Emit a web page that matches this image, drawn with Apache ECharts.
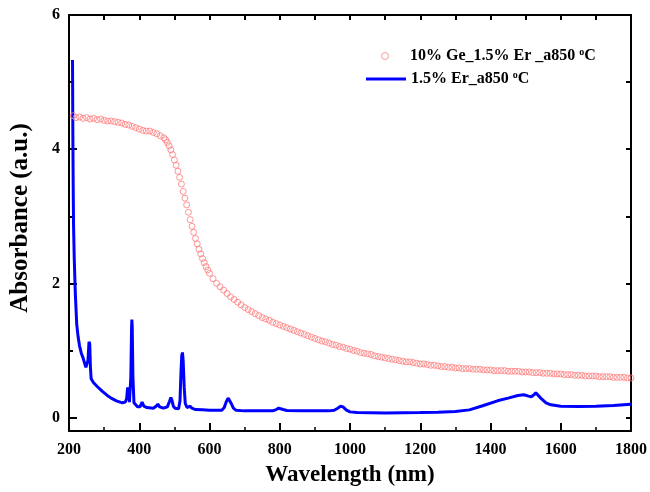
<!DOCTYPE html>
<html>
<head>
<meta charset="utf-8">
<script src="https://cdn.jsdelivr.net/npm/echarts@6/dist/echarts.min.js"></script>
<style>
  html, body { margin: 0; padding: 0; background: #fff; }
  #chart { width: 650px; height: 492px; }
</style>
</head>
<body>
<div id="chart"></div>
<script>
// Absorption spectra of two annealed Er-doped films.

const xTicks = [200, 400, 600, 800, 1000, 1200, 1400, 1600, 1800];
const yMajorTicks = [0, 2, 4, 6];
const yMinorTicks = [1, 3, 5];
const yAllTicks = [0, 1, 2, 3, 4, 5, 6];

const geName = '10% Ge_1.5% Er _a850 °C';
const erName = '1.5% Er_a850 °C';

// 10% Ge + 1.5% Er film (open circles)
const geWavelength = [
  212, 220, 230, 240, 250, 260, 270, 280, 290, 300, 310, 320, 330, 340, 350, 360, 370, 380, 390, 400,
  410, 420, 430, 440, 450, 460, 470, 475, 480, 485, 490, 495, 500, 505, 510, 515, 520, 525, 530, 535,
  540, 545, 550, 555, 560, 565, 570, 575, 580, 585, 590, 595, 600, 610, 620, 630, 640, 650, 660, 670,
  680, 690, 700, 710, 720, 730, 740, 750, 760, 770, 780, 790, 800, 810, 820, 830, 840, 850, 860, 870,
  880, 890, 900, 910, 920, 930, 940, 950, 960, 970, 980, 990, 1000, 1010, 1020, 1030, 1040, 1050, 1060, 1070,
  1080, 1090, 1100, 1110, 1120, 1130, 1140, 1150, 1160, 1170, 1180, 1190, 1200, 1210, 1220, 1230, 1240, 1250, 1260, 1270,
  1280, 1290, 1300, 1310, 1320, 1330, 1340, 1350, 1360, 1370, 1380, 1390, 1400, 1410, 1420, 1430, 1440, 1450, 1460, 1470,
  1480, 1490, 1500, 1510, 1520, 1530, 1540, 1550, 1560, 1570, 1580, 1590, 1600, 1610, 1620, 1630, 1640, 1650, 1660, 1670,
  1680, 1690, 1700, 1710, 1720, 1730, 1740, 1750, 1760, 1770, 1780, 1790, 1800
];
const geAbsorbance = [
  4.50, 4.47, 4.48, 4.46, 4.47, 4.45, 4.46, 4.44, 4.45, 4.43, 4.42, 4.42, 4.41, 4.40, 4.39, 4.37, 4.36, 4.34, 4.32, 4.30,
  4.28, 4.27, 4.27, 4.25, 4.23, 4.20, 4.17, 4.14, 4.10, 4.05, 3.99, 3.92, 3.84, 3.76, 3.67, 3.58, 3.48, 3.37, 3.27, 3.17,
  3.06, 2.95, 2.85, 2.76, 2.67, 2.59, 2.51, 2.44, 2.37, 2.31, 2.25, 2.20, 2.15, 2.07, 2.00, 1.95, 1.90, 1.85, 1.80, 1.76,
  1.72, 1.68, 1.64, 1.61, 1.58, 1.55, 1.52, 1.49, 1.47, 1.45, 1.42, 1.40, 1.38, 1.36, 1.34, 1.32, 1.30, 1.28, 1.26, 1.24,
  1.22, 1.20, 1.18, 1.16, 1.14, 1.13, 1.11, 1.09, 1.08, 1.06, 1.05, 1.03, 1.02, 1.00, 0.99, 0.97, 0.96, 0.95, 0.94, 0.92,
  0.91, 0.90, 0.89, 0.88, 0.87, 0.86, 0.85, 0.84, 0.83, 0.83, 0.82, 0.81, 0.80, 0.80, 0.79, 0.78, 0.78, 0.77, 0.76, 0.76,
  0.75, 0.75, 0.74, 0.74, 0.73, 0.73, 0.73, 0.72, 0.72, 0.72, 0.71, 0.71, 0.71, 0.70, 0.70, 0.70, 0.70, 0.69, 0.69, 0.69,
  0.69, 0.68, 0.68, 0.68, 0.67, 0.67, 0.67, 0.66, 0.66, 0.66, 0.65, 0.65, 0.65, 0.64, 0.64, 0.64, 0.63, 0.63, 0.63, 0.62,
  0.62, 0.62, 0.62, 0.61, 0.61, 0.61, 0.61, 0.60, 0.60, 0.60, 0.60, 0.59, 0.59
];

// 1.5% Er film (solid line)
const erWavelength = [
  210, 211, 212, 213, 215, 218, 222, 226, 230, 235, 240, 245, 248, 251, 254, 257, 259, 261, 263, 270,
  281, 295, 309, 320, 335, 352, 360, 364, 367, 369, 372, 374, 376, 378, 379, 380, 382, 385, 395, 402,
  408, 413, 422, 440, 448, 453, 458, 469, 480, 486, 490, 493, 497, 502, 512, 516, 519, 521, 523, 525,
  528, 531, 536, 541, 545, 550, 560, 580, 600, 620, 635, 642, 648, 653, 657, 662, 668, 675, 700, 740,
  780, 790, 797, 802, 810, 820, 860, 900, 940, 955, 965, 973, 980, 990, 1000, 1020, 1100, 1200, 1250, 1300,
  1340, 1380, 1420, 1450, 1478, 1495, 1508, 1516, 1524, 1529, 1533, 1543, 1558, 1572, 1600, 1650, 1700, 1750, 1800
];
const erAbsorbance = [
  5.33, 4.20, 3.40, 2.85, 2.36, 1.85, 1.39, 1.20, 1.07, 0.96, 0.89, 0.80, 0.75, 0.74, 0.85, 1.13, 1.10, 0.75, 0.58, 0.52,
  0.46, 0.39, 0.33, 0.29, 0.25, 0.22, 0.23, 0.28, 0.45, 0.40, 0.23, 0.21, 0.60, 1.30, 1.46, 1.35, 0.60, 0.22, 0.16, 0.16,
  0.23, 0.17, 0.15, 0.14, 0.17, 0.20, 0.16, 0.14, 0.16, 0.24, 0.30, 0.26, 0.17, 0.14, 0.13, 0.25, 0.70, 0.92, 0.97, 0.85,
  0.45, 0.21, 0.15, 0.17, 0.17, 0.14, 0.12, 0.115, 0.11, 0.11, 0.11, 0.15, 0.24, 0.29, 0.28, 0.21, 0.14, 0.11, 0.10, 0.10,
  0.10, 0.12, 0.14, 0.14, 0.12, 0.105, 0.10, 0.10, 0.10, 0.11, 0.14, 0.17, 0.16, 0.11, 0.085, 0.075, 0.07, 0.075, 0.08, 0.09,
  0.115, 0.18, 0.25, 0.29, 0.33, 0.34, 0.32, 0.31, 0.34, 0.37, 0.35, 0.29, 0.22, 0.19, 0.17, 0.165, 0.17, 0.18, 0.20
];

const FONT = '"Liberation Serif", "Times New Roman", serif';
const toPairs = (xs, ys) => xs.map((x, i) => [x, ys[i]]);
const supFormatter = (name) => name.replace('°', '{sup|o}');

const legendText = {
  fontFamily: FONT, fontWeight: 'bold', fontSize: 16, color: '#000',
  rich: {
    sup: { fontFamily: FONT, fontWeight: 'bold', fontSize: 10, color: '#000', padding: [0, 0, 8, 0] }
  }
};

const chart = echarts.init(document.getElementById('chart'), null, { renderer: 'canvas' });

chart.setOption({
  animation: false,
  backgroundColor: '#fff',
  grid: { left: 68, right: 16, top: 15, bottom: 55, containLabel: false },
  legend: [
    {
      data: [{ name: geName, icon: 'circle',
               itemStyle: { color: 'rgba(255,255,255,0)', borderColor: '#ff7a7a', borderWidth: 1 } }],
      left: 376, top: 42, itemWidth: 40, itemHeight: 7,
      formatter: supFormatter, textStyle: legendText
    },
    {
      data: [{ name: erName, icon: 'rect', itemStyle: { color: '#0000ff' } }],
      left: 361, top: 65, itemWidth: 40, itemHeight: 3,
      formatter: supFormatter, textStyle: legendText
    }
  ],
  xAxis: [
    {
      type: 'value', position: 'bottom', min: 200, max: 1800, interval: 200,
      axisLine: { show: true, onZero: false, lineStyle: { color: '#000', width: 2 } },
      axisTick: { show: true, inside: true, length: 8, lineStyle: { color: '#000', width: 2 } },
      minorTick: { show: true, splitNumber: 2, length: 4, lineStyle: { color: '#000', width: 1.5 } },
      axisLabel: { color: '#000', fontFamily: FONT, fontWeight: 'bold', fontSize: 16, margin: 11,
                   customValues: xTicks, formatter: (v) => String(v) },
      splitLine: { show: false },
      name: 'Wavelength (nm)', nameLocation: 'middle', nameGap: 33,
      nameTextStyle: { color: '#000', fontFamily: FONT, fontWeight: 'bold', fontSize: 23 }
    },
    {
      type: 'value', position: 'top', min: 200, max: 1800, interval: 100,
      axisLine: { show: true, onZero: false, lineStyle: { color: '#000', width: 2 } },
      axisTick: { show: true, inside: true, length: 5, lineStyle: { color: '#000', width: 2 } },
      axisLabel: { show: false },
      splitLine: { show: false }
    }
  ],
  yAxis: [
    {
      type: 'value', position: 'left', min: -0.2, max: 6,
      axisLine: { show: true, onZero: false, lineStyle: { color: '#000', width: 2 } },
      axisTick: { show: true, inside: true, length: 8, customValues: yMajorTicks,
                  lineStyle: { color: '#000', width: 2 } },
      axisLabel: { color: '#000', fontFamily: FONT, fontWeight: 'bold', fontSize: 16, margin: 9,
                   customValues: yMajorTicks },
      splitLine: { show: false },
      name: 'Absorbance (a.u.)', nameLocation: 'middle', nameGap: 36,
      nameTextStyle: { color: '#000', fontFamily: FONT, fontWeight: 'bold', fontSize: 25,
                       padding: [0, 0, 0, 10] }
    },
    {
      type: 'value', position: 'right', min: -0.2, max: 6,
      axisLine: { show: true, onZero: false, lineStyle: { color: '#000', width: 2 } },
      axisTick: { show: true, inside: true, length: 5, customValues: yAllTicks,
                  lineStyle: { color: '#000', width: 2 } },
      axisLabel: { show: false },
      splitLine: { show: false }
    },
    {
      // minor ticks on the left side
      type: 'value', position: 'left', min: -0.2, max: 6,
      axisLine: { show: false },
      axisTick: { show: true, inside: true, length: 4, customValues: yMinorTicks,
                  lineStyle: { color: '#000', width: 2 } },
      axisLabel: { show: false },
      splitLine: { show: false }
    }
  ],
  series: [
    {
      name: erName, type: 'line', xAxisIndex: 0, yAxisIndex: 0,
      data: toPairs(erWavelength, erAbsorbance),
      showSymbol: false, symbol: 'none',
      lineStyle: { color: '#0000ff', width: 3 },
      itemStyle: { color: '#0000ff' },
      z: 2
    },
    {
      name: geName, type: 'scatter', xAxisIndex: 0, yAxisIndex: 0,
      data: toPairs(geWavelength, geAbsorbance),
      symbol: 'circle', symbolSize: 6,
      itemStyle: { color: 'rgba(255,255,255,0)', borderColor: '#ff7a7a', borderWidth: 1 },
      z: 3
    }
  ]
});
</script>
</body>
</html>
